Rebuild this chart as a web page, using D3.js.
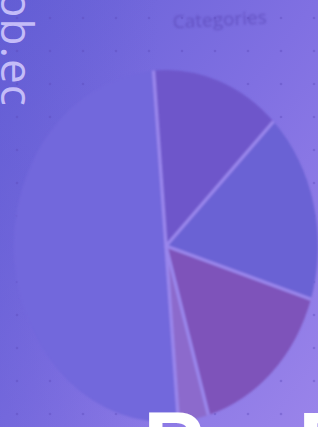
<!DOCTYPE html>
<html><head><meta charset="utf-8">
<script src="https://cdn.jsdelivr.net/npm/d3@7"></script>
<style>html,body{margin:0;padding:0;overflow:hidden;background:#7a68dc}</style>
</head><body>
<script>
const categories = ["Category A","Category B","Category C","Category D","Category E"];
const values = [13.8, 17.4, 15.6, 3.2, 50.0];
const sliceColors = ["#6e56ca","#6a62d4","#7e52ba","#8c6acc","#7268dc"];
const titleText = "Categories";
const sideText = "ob.ec";
const bottomText = "Pro Data";

const W = 318, H = 427;
const svg = d3.select("body").append("svg").attr("width", W).attr("height", H);
const defs = svg.append("defs");

const bg = defs.append("linearGradient").attr("id","bg").attr("x1","0").attr("y1","0").attr("x2","1").attr("y2","1");
bg.append("stop").attr("offset","0").attr("stop-color","#6660d6");
bg.append("stop").attr("offset","0.5").attr("stop-color","#8070e2");
bg.append("stop").attr("offset","1").attr("stop-color","#9a84ea");
svg.append("rect").attr("width",W).attr("height",H).attr("fill","url(#bg)");

const bg2 = defs.append("linearGradient").attr("id","bg2").attr("x1","0").attr("y1","0").attr("x2","1").attr("y2","0");
bg2.append("stop").attr("offset","0").attr("stop-color","#5c58d0").attr("stop-opacity",0.35);
bg2.append("stop").attr("offset","0.5").attr("stop-color","#5c58d0").attr("stop-opacity",0);
svg.append("rect").attr("width",W).attr("height",H).attr("fill","url(#bg2)");

defs.append("filter").attr("id","soft").attr("x","-10%").attr("y","-10%").attr("width","120%").attr("height","120%")
  .append("feGaussianBlur").attr("stdDeviation",1);

// faint dotted grid
const gx = d3.range(17, W, 33), gy = d3.range(18, H, 33);
const dots = svg.append("g").attr("fill","#5a48b8").attr("opacity",0.35);
gx.forEach(x => gy.forEach(y => dots.append("circle").attr("cx",x).attr("cy",y).attr("r",1.3)));

// title
svg.append("text").attr("x",220).attr("y",26).attr("text-anchor","middle")
  .attr("transform","rotate(-3,220,26)")
  .attr("font-family","Open Sans").attr("font-size",19).attr("fill","#5e4cbc").attr("opacity",0.8)
  .attr("filter","url(#soft)")
  .text(titleText);

// side text
svg.append("text").attr("transform","translate(1,-9) rotate(90)")
  .attr("font-family","Open Sans").attr("font-size",44).attr("fill","#c4bcf8")
  .attr("letter-spacing",1)
  .text(sideText);

// pie (elliptical by scaling the path, blur on outer group)
const cx = 166, cy = 246, rx = 152, ry = 176;
const start = -4.7*Math.PI/180;
const pie = d3.pie().sort(null).value(d => d).startAngle(start).endAngle(2*Math.PI + start);
const arc = d3.arc().innerRadius(0).outerRadius(1);
const outer = svg.append("g").attr("filter","url(#soft)");
const g = outer.append("g").attr("transform",`translate(${cx},${cy}) scale(${rx},${ry})`);
const arcs = pie(values);
g.selectAll("path").data(arcs).join("path")
  .attr("d", arc)
  .attr("fill", (d,i) => sliceColors[i]);
g.selectAll("line").data(arcs).join("line")
  .attr("x1",0).attr("y1",0)
  .attr("x2", d => d3.pointRadial(d.startAngle, 1)[0])
  .attr("y2", d => d3.pointRadial(d.startAngle, 1)[1])
  .attr("stroke", "#9a86ec")
  .attr("stroke-width", 3.2)
  .attr("vector-effect","non-scaling-stroke");

// big white bottom text
svg.append("text").attr("x",143).attr("y",477)
  .attr("font-family","Liberation Sans").attr("font-weight","bold").attr("font-size",92)
  .attr("letter-spacing",-6)
  .attr("fill","#ffffff")
  .text(bottomText);
</script>
</body></html>
